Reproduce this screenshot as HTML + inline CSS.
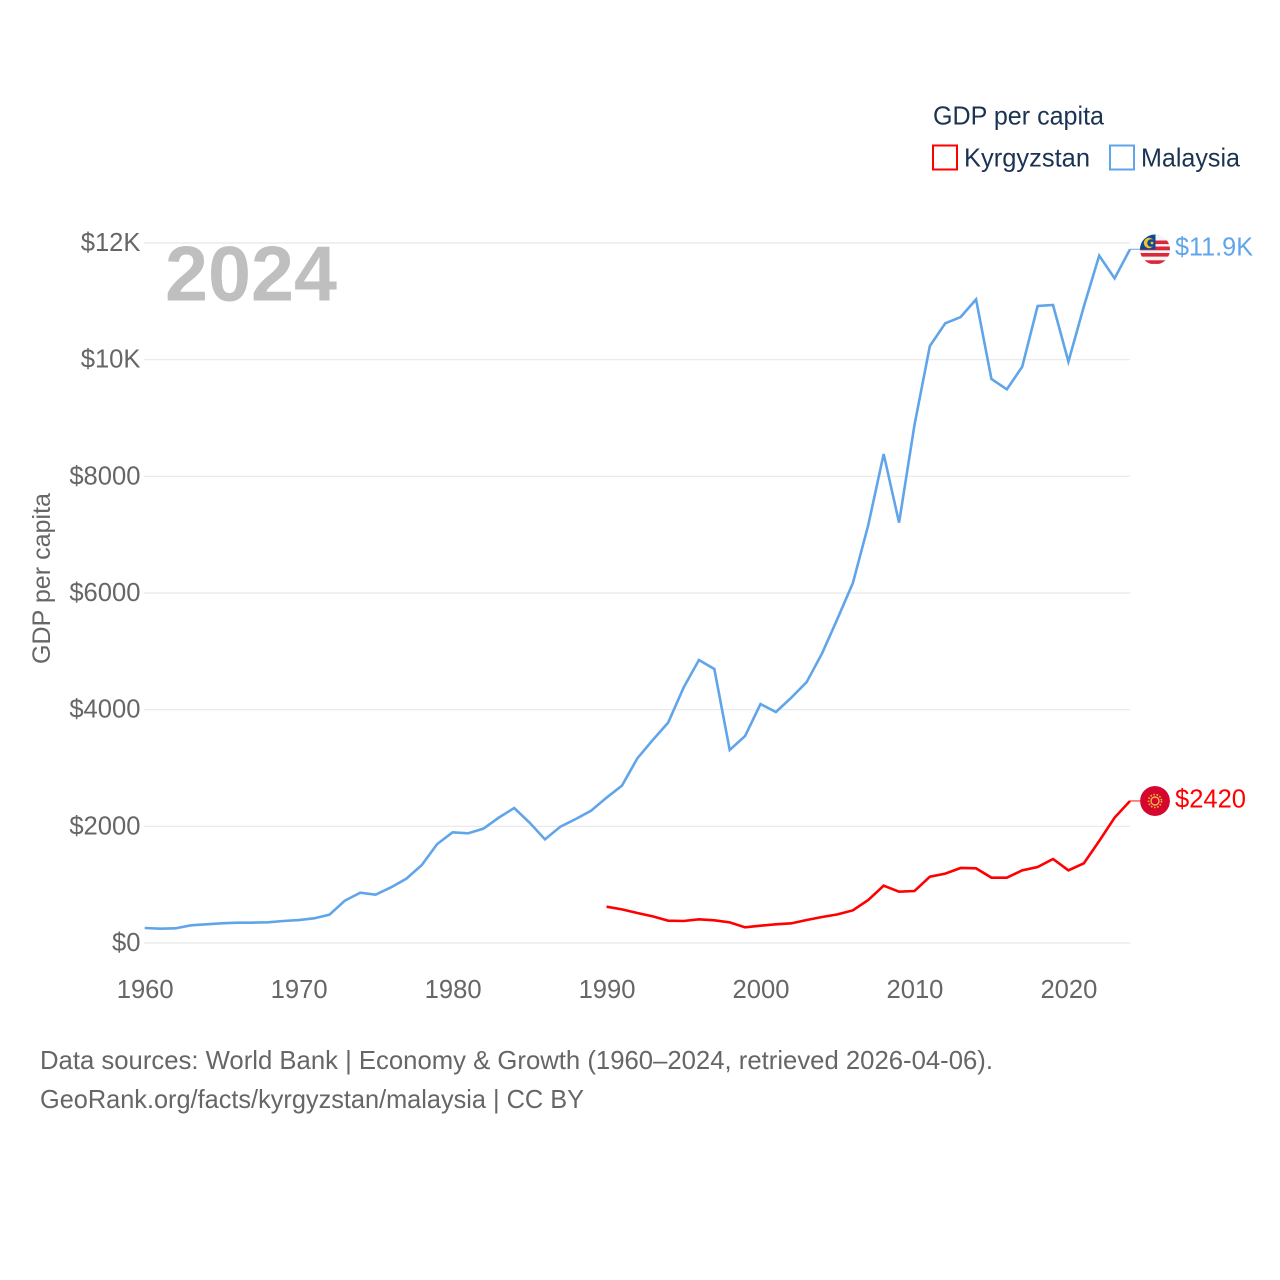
<!DOCTYPE html>
<html lang="en">
<head>
<meta charset="utf-8">
<title>GDP per capita: Kyrgyzstan and Malaysia</title>
<style>
  html, body { margin: 0; padding: 0; background: #fff; }
  svg { display: block; font-family: "Liberation Sans", sans-serif; }
</style>
</head>
<body>
<svg id="chart" xmlns="http://www.w3.org/2000/svg" width="1280" height="1280" viewBox="0 0 1280 1280">
  <defs>
    <clipPath id="clip-my"><circle cx="1155" cy="249.5" r="15"></circle></clipPath>
    <clipPath id="clip-kg"><circle cx="1155" cy="801" r="15"></circle></clipPath>
  </defs>
  <g id="grid"></g>
  <g id="y-ticks"></g>
  <g id="x-ticks"></g>

  <text x="165" y="300.5" font-size="78" font-weight="700" fill="#bfbfbf" textLength="172" lengthAdjust="spacingAndGlyphs">2024</text>
  <text transform="translate(50 664) rotate(-90)" font-size="25" fill="#666666" textLength="171" lengthAdjust="spacingAndGlyphs">GDP per capita</text>

  <g id="series"></g>

  <g clip-path="url(#clip-my)">
    <rect x="1140" y="234" width="30" height="31" fill="#f4f4f4"></rect>
    <rect x="1140" y="240.5" width="30" height="3.6" fill="#d8283a"></rect>
    <rect x="1140" y="246.5" width="30" height="3.8" fill="#d8283a"></rect>
    <rect x="1140" y="253" width="30" height="3.6" fill="#d8283a"></rect>
    <rect x="1140" y="260.3" width="30" height="3.6" fill="#d8283a"></rect>
    <rect x="1140" y="234" width="15.5" height="15.5" fill="#0f4a94"></rect>
    <circle cx="1149" cy="243" r="5.2" fill="#f2c230"></circle>
    <circle cx="1151" cy="243" r="3.8" fill="#0f4a94"></circle>
    <circle cx="1152" cy="243" r="1.4" fill="#f2c230"></circle>
  </g>
  <g clip-path="url(#clip-kg)">
    <circle cx="1155" cy="801" r="15" fill="#d6072f"></circle>
    <circle cx="1155" cy="801" r="4" fill="none" stroke="#f0b93a" stroke-width="1.4"></circle>
    <circle cx="1155" cy="801" r="6.5" fill="none" stroke="#f0b93a" stroke-width="1.6" stroke-dasharray="1.6 1.6"></circle>
  </g>

  <text x="1175" y="255.5" font-size="25.6" fill="#60a5ea" textLength="78" lengthAdjust="spacingAndGlyphs">$11.9K</text>
  <text x="1175" y="807.5" font-size="25.6" fill="#ff0000" textLength="71" lengthAdjust="spacingAndGlyphs">$2420</text>

  <g>
    <text x="933" y="124.5" font-size="25.6" fill="#1a3353" textLength="171" lengthAdjust="spacingAndGlyphs">GDP per capita</text>
    <g>
      <rect x="933" y="145.5" width="24" height="24" fill="#ffffff" stroke="#ff0000" stroke-width="2"></rect>
      <text x="964" y="166.5" font-size="25.6" fill="#1a3353" textLength="126" lengthAdjust="spacingAndGlyphs">Kyrgyzstan</text>
    </g>
    <g>
      <rect x="1110" y="145.5" width="24" height="24" fill="#ffffff" stroke="#60a5ea" stroke-width="2"></rect>
      <text x="1141" y="166.5" font-size="25.6" fill="#1a3353" textLength="99" lengthAdjust="spacingAndGlyphs">Malaysia</text>
    </g>
  </g>

  <g>
    <text x="40" y="1069" font-size="25.6" fill="#666666" textLength="953" lengthAdjust="spacingAndGlyphs">Data sources: World Bank | Economy &amp; Growth (1960–2024, retrieved 2026-04-06).</text>
    <text x="40" y="1108" font-size="25.6" fill="#666666" textLength="544" lengthAdjust="spacingAndGlyphs">GeoRank.org/facts/kyrgyzstan/malaysia | CC BY</text>
  </g>
</svg>

<script>
const yTickValues = [0, 2000, 4000, 6000, 8000, 10000, 12000];
const yTickLabels = ["$0", "$2000", "$4000", "$6000", "$8000", "$10K", "$12K"];
const xTickYears = [1960, 1970, 1980, 1990, 2000, 2010, 2020];
const xTickLabels = ["1960", "1970", "1980", "1990", "2000", "2010", "2020"];

const malaysiaStartYear = 1960;
const malaysiaValues = [
  257, 246, 251, 303, 320, 337, 349, 349, 354, 377,
  394, 423, 486, 726, 863, 829, 954, 1103, 1337, 1697,
  1897, 1880, 1960, 2149, 2314, 2063, 1777, 1994, 2126, 2269,
  2491, 2697, 3166, 3480, 3777, 4377, 4851, 4697, 3309, 3549,
  4097, 3960, 4206, 4474, 4966, 5560, 6171, 7166, 8383, 7206,
  8880, 10234, 10623, 10731, 11034, 9669, 9491, 9880, 10920, 10937,
  9966, 10909, 11783, 11394, 11892
];

const kyrgyzstanStartYear = 1990;
const kyrgyzstanValues = [
  623, 577, 514, 457, 383, 377, 406, 389, 354, 269,
  297, 320, 337, 394, 446, 491, 560, 737, 983, 880,
  891, 1137, 1189, 1286, 1280, 1120, 1120, 1246, 1303, 1440,
  1246, 1366, 1749, 2149, 2435
];

const SVG_NS = "http://www.w3.org/2000/svg";

function xScale(year) {
  return 144.7 + (year - 1960) * (1130 - 144.7) / 64;
}
function yScale(value) {
  return 943 - value * 700 / 12000;
}

const gridGroup = document.getElementById("grid");
const yTickGroup = document.getElementById("y-ticks");
const xTickGroup = document.getElementById("x-ticks");
const seriesGroup = document.getElementById("series");

yTickValues.forEach(function (value, i) {
  const line = document.createElementNS(SVG_NS, "line");
  line.setAttribute("x1", 144);
  line.setAttribute("x2", 1130);
  line.setAttribute("y1", yScale(value));
  line.setAttribute("y2", yScale(value));
  line.setAttribute("stroke", "#e8e8e8");
  line.setAttribute("stroke-width", 1.2);
  
  
  gridGroup.appendChild(line);

  const label = document.createElementNS(SVG_NS, "text");
  label.textContent = yTickLabels[i];
  label.setAttribute("x", 140.5);
  label.setAttribute("y", yScale(value) + 8);
  label.setAttribute("text-anchor", "end");
  label.setAttribute("font-size", 25.6);
  label.setAttribute("fill", "#666666");
  
  
  yTickGroup.appendChild(label);
});

xTickYears.forEach(function (year, i) {
  const label = document.createElementNS(SVG_NS, "text");
  label.textContent = xTickLabels[i];
  label.setAttribute("x", xScale(year) + 0.5);
  label.setAttribute("y", 998);
  label.setAttribute("text-anchor", "middle");
  label.setAttribute("font-size", 25.6);
  label.setAttribute("fill", "#666666");
  
  
  xTickGroup.appendChild(label);
});

function buildPoints(startYear, values) {
  return values.map(function (value, i) {
    return xScale(startYear + i).toFixed(2) + "," + yScale(value).toFixed(2);
  }).join(" ");
}

function drawLeader(values, colour) {
  const last = yScale(values[values.length - 1]);
  const leader = document.createElementNS(SVG_NS, "line");
  leader.setAttribute("x1", xScale(2024));
  leader.setAttribute("x2", 1140);
  leader.setAttribute("y1", last);
  leader.setAttribute("y2", last);
  leader.setAttribute("stroke", colour);
  leader.setAttribute("stroke-width", 1.2);
  leader.setAttribute("stroke-opacity", 0.8);
  
  
  seriesGroup.appendChild(leader);
}

const malaysiaLine = document.createElementNS(SVG_NS, "polyline");
malaysiaLine.setAttribute("points", buildPoints(malaysiaStartYear, malaysiaValues));
malaysiaLine.setAttribute("fill", "none");
malaysiaLine.setAttribute("stroke", "#60a5ea");
malaysiaLine.setAttribute("stroke-width", 2.6);
malaysiaLine.setAttribute("stroke-linejoin", "miter");


seriesGroup.appendChild(malaysiaLine);

const kyrgyzstanLine = document.createElementNS(SVG_NS, "polyline");
kyrgyzstanLine.setAttribute("points", buildPoints(kyrgyzstanStartYear, kyrgyzstanValues));
kyrgyzstanLine.setAttribute("fill", "none");
kyrgyzstanLine.setAttribute("stroke", "#ff0000");
kyrgyzstanLine.setAttribute("stroke-width", 2.6);
kyrgyzstanLine.setAttribute("stroke-linejoin", "miter");


seriesGroup.appendChild(kyrgyzstanLine);

drawLeader(malaysiaValues, "#60a5ea");
drawLeader(kyrgyzstanValues, "#ff0000");
</script>
</body>
</html>
